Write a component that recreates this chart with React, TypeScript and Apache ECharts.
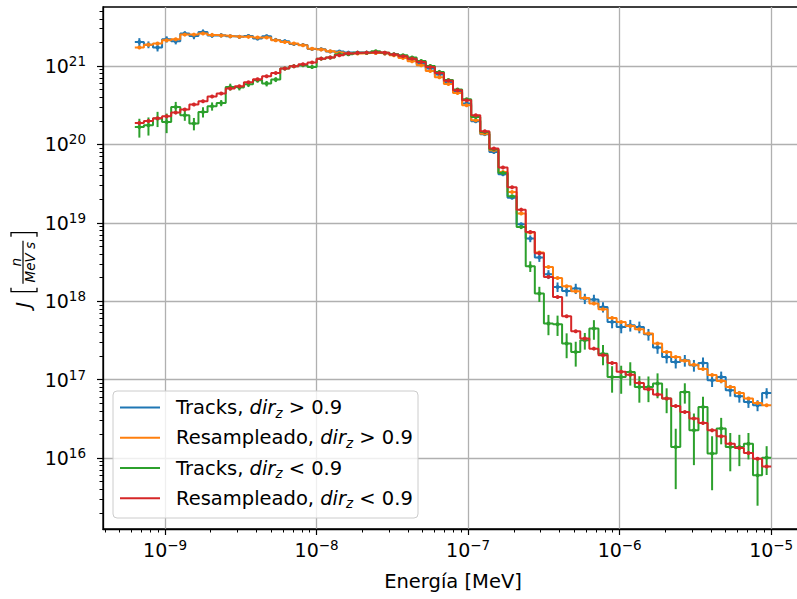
import React, { useEffect, useRef } from 'react';
import * as echarts from 'echarts';

const FONT = '"DejaVu Sans", Verdana, sans-serif';

// Energy bins: logarithmic, 70 bins between 10^-9.2 and 10^-5 MeV
const LOG_E_MIN = -9.2;
const LOG_E_MAX = -5.0;
const N_BINS = 70;

// Axis limits (log10 units)
const X_MIN = -9.41;
const X_MAX = -4.79;
const Y_MIN = 15.094;
const Y_MAX = 21.752;

const xMajorTicks = [-9, -8, -7, -6, -5];
const yMajorTicks = [16, 17, 18, 19, 20, 21];

const seriesNames = [
  'Tracks, dir_z > 0.9',
  'Resampleado, dir_z > 0.9',
  'Tracks, dir_z < 0.9',
  'Resampleado, dir_z < 0.9',
];
const legendPrefixes = ['Tracks, ', 'Resampleado, ', 'Tracks, ', 'Resampleado, '];
const legendRelations = [' > 0.9', ' > 0.9', ' < 0.9', ' < 0.9'];
const seriesColors = ['#1f77b4', '#ff7f0e', '#2ca02c', '#d62728'];

const tracksUp = [
  2.02e21, 1.87e21, 1.72e21, 2.19e21, 2.07e21, 2.59e21, 2.41e21, 2.72e21, 2.44e21, 2.46e21,
  2.39e21, 2.35e21, 2.41e21, 2.24e21, 2.39e21, 2.15e21, 2.07e21, 1.91e21, 1.85e21, 1.65e21,
  1.63e21, 1.53e21, 1.53e21, 1.48e21, 1.48e21, 1.48e21, 1.47e21, 1.44e21, 1.40e21, 1.30e21,
  1.21e21, 1.07e21, 9.3e20, 7.8e20, 6.25e20, 4.66e20, 3.31e20, 1.97e20, 1.35e20, 8.0e19,
  4.16e19, 2.09e19, 9.57e18, 6.28e18, 3.60e18, 2.20e18, 1.52e18, 1.35e18, 1.45e18, 1.08e18,
  1.05e18, 8.43e17, 5.43e17, 4.69e17, 4.93e17, 4.69e17, 3.78e17, 2.57e17, 1.94e17, 1.67e17,
  1.76e17, 1.52e17, 1.63e17, 9.8e16, 1.08e17, 7.3e16, 6.12e16, 5.18e16, 4.70e16, 6.75e16,
];
const tracksUpRelErr = [
  0.12, 0.10, 0.11, 0.09, 0.09, 0.07, 0.09, 0.07, 0.06, 0.06,
  0.05, 0.05, 0.05, 0.05, 0.05, 0.05, 0.05, 0.05, 0.05, 0.05,
  0.05, 0.04, 0.04, 0.04, 0.04, 0.04, 0.04, 0.04, 0.04, 0.04,
  0.04, 0.04, 0.04, 0.04, 0.04, 0.03, 0.03, 0.03, 0.03, 0.03,
  0.03, 0.03, 0.04, 0.10, 0.12, 0.13, 0.14, 0.15, 0.15, 0.15,
  0.15, 0.15, 0.17, 0.17, 0.17, 0.17, 0.17, 0.17, 0.17, 0.17,
  0.17, 0.17, 0.17, 0.18, 0.17, 0.17, 0.17, 0.16, 0.16, 0.15,
];

const resampUp = [
  1.72e21, 1.87e21, 1.93e21, 2.13e21, 2.19e21, 2.51e21, 2.51e21, 2.59e21, 2.49e21, 2.44e21,
  2.39e21, 2.35e21, 2.35e21, 2.30e21, 2.30e21, 2.13e21, 2.02e21, 1.93e21, 1.84e21, 1.66e21,
  1.62e21, 1.54e21, 1.48e21, 1.44e21, 1.44e21, 1.46e21, 1.46e21, 1.44e21, 1.37e21, 1.26e21,
  1.15e21, 1.02e21, 8.6e20, 7.2e20, 5.9e20, 4.53e20, 3.16e20, 2.03e20, 1.37e20, 8.41e19,
  4.45e19, 2.47e19, 1.31e19, 7.50e18, 4.17e18, 2.73e18, 1.98e18, 1.55e18, 1.34e18, 1.10e18,
  9.31e17, 7.89e17, 6.11e17, 5.43e17, 4.83e17, 4.39e17, 3.86e17, 2.88e17, 2.25e17, 1.94e17,
  1.74e17, 1.55e17, 1.36e17, 1.14e17, 9.6e16, 8.05e16, 6.75e16, 5.73e16, 5.04e16, 4.70e16,
];
const resampUpRelErr = [
  0.03, 0.03, 0.03, 0.03, 0.03, 0.03, 0.03, 0.03, 0.03, 0.03,
  0.015, 0.015, 0.015, 0.015, 0.015, 0.015, 0.015, 0.015, 0.015, 0.015,
  0.015, 0.015, 0.015, 0.015, 0.015, 0.015, 0.015, 0.015, 0.015, 0.015,
  0.015, 0.015, 0.015, 0.015, 0.015, 0.015, 0.015, 0.015, 0.015, 0.015,
  0.015, 0.015, 0.015, 0.03, 0.03, 0.03, 0.03, 0.03, 0.03, 0.03,
  0.03, 0.03, 0.03, 0.03, 0.03, 0.03, 0.03, 0.03, 0.03, 0.03,
  0.03, 0.03, 0.03, 0.03, 0.03, 0.03, 0.03, 0.03, 0.03, 0.03,
];

const tracksDown = [
  1.67e20, 1.75e20, 2.13e20, 1.93e20, 3.00e20, 2.35e20, 1.84e20, 2.59e20, 3.06e20, 3.37e20,
  5.40e20, 5.30e20, 5.85e20, 6.58e20, 5.96e20, 6.70e20, 9.26e20, 9.91e20, 1.02e21, 9.71e20,
  1.24e21, 1.28e21, 1.41e21, 1.41e21, 1.47e21, 1.47e21, 1.54e21, 1.47e21, 1.41e21, 1.37e21,
  1.28e21, 1.16e21, 1.00e21, 8.4e20, 6.6e20, 5.0e20, 3.76e20, 2.24e20, 1.44e20, 8.65e19,
  4.32e19, 2.18e19, 8.83e18, 2.79e18, 1.25e18, 5.18e17, 5.07e17, 2.88e17, 2.25e17, 3.17e17,
  4.47e17, 2.14e17, 1.08e17, 1.08e17, 1.25e17, 8.05e16, 8.05e16, 8.89e16, 5.73e16, 1.38e16,
  6.95e16, 2.25e16, 4.48e16, 1.14e16, 2.37e16, 1.38e16, 1.38e16, 1.52e16, 6.0e15, 1.01e16,
];
const tracksDownRelErr = [
  0.27, 0.26, 0.22, 0.28, 0.16, 0.15, 0.18, 0.15, 0.12, 0.09,
  0.10, 0.08, 0.08, 0.07, 0.08, 0.07, 0.05, 0.05, 0.05, 0.05,
  0.05, 0.05, 0.05, 0.05, 0.05, 0.05, 0.04, 0.04, 0.04, 0.04,
  0.04, 0.04, 0.04, 0.04, 0.04, 0.04, 0.04, 0.04, 0.04, 0.04,
  0.04, 0.04, 0.06, 0.155, 0.22, 0.29, 0.29, 0.35, 0.35, 0.24,
  0.28, 0.29, 0.37, 0.39, 0.33, 0.37, 0.36, 0.35, 0.35, 0.71,
  0.29, 0.64, 0.35, 0.66, 0.37, 0.51, 0.43, 0.37, 0.59, 0.40,
];

const resampDown = [
  1.87e20, 1.99e20, 2.15e20, 2.28e20, 2.54e20, 2.78e20, 3.22e20, 3.55e20, 4.07e20, 4.45e20,
  5.15e20, 5.51e20, 6.20e20, 6.77e20, 7.39e20, 8.15e20, 9.26e20, 9.91e20, 1.05e21, 1.11e21,
  1.24e21, 1.28e21, 1.37e21, 1.44e21, 1.47e21, 1.48e21, 1.50e21, 1.47e21, 1.40e21, 1.33e21,
  1.24e21, 1.12e21, 9.7e20, 8.15e20, 6.5e20, 4.90e20, 3.66e20, 2.35e20, 1.47e20, 8.83e19,
  5.06e19, 2.84e19, 1.47e19, 7.64e18, 4.08e18, 2.04e18, 1.13e18, 6.41e17, 4.13e17, 3.33e17,
  2.48e17, 2.04e17, 1.63e17, 1.26e17, 1.15e17, 9.06e16, 7.52e16, 6.44e16, 5.73e16, 4.60e16,
  3.86e16, 3.18e16, 2.79e16, 2.25e16, 1.89e16, 1.52e16, 1.34e16, 1.16e16, 9.8e15, 7.8e15,
];
const resampDownRelErr = [
  0.04, 0.04, 0.04, 0.04, 0.04, 0.04, 0.04, 0.04, 0.04, 0.04,
  0.015, 0.015, 0.015, 0.015, 0.015, 0.015, 0.015, 0.015, 0.015, 0.015,
  0.015, 0.015, 0.015, 0.015, 0.015, 0.015, 0.015, 0.015, 0.015, 0.015,
  0.015, 0.015, 0.015, 0.015, 0.015, 0.015, 0.015, 0.015, 0.015, 0.015,
  0.015, 0.015, 0.015, 0.03, 0.03, 0.03, 0.03, 0.03, 0.03, 0.03,
  0.03, 0.03, 0.03, 0.03, 0.03, 0.03, 0.03, 0.03, 0.03, 0.03,
  0.03, 0.03, 0.03, 0.03, 0.03, 0.03, 0.03, 0.03, 0.03, 0.03,
];

const allValues = [tracksUp, resampUp, tracksDown, resampDown];
const allRelErr = [tracksUpRelErr, resampUpRelErr, tracksDownRelErr, resampDownRelErr];

// --- derived structures ---
const binLogEdges: number[] = [];
for (let k = 0; k <= N_BINS; k++) binLogEdges.push(LOG_E_MIN + ((LOG_E_MAX - LOG_E_MIN) * k) / N_BINS);
const binLogCenters = binLogEdges.slice(0, N_BINS).map((e, k) => (e + binLogEdges[k + 1]) / 2);

function minorTicks(lo: number, hi: number, from: number, to: number) {
  const out: number[] = [];
  for (let n = from; n <= to; n++) {
    for (let m = 2; m <= 9; m++) {
      const v = n + Math.log10(m);
      if (v > lo && v < hi) out.push(v);
    }
  }
  return out;
}
const xMinorTicks = minorTicks(X_MIN, X_MAX, -10, -5);
const yMinorTicks = minorTicks(Y_MIN, Y_MAX, 15, 21);

const expText = (n: number) => (n < 0 ? '\u2212' + -n : String(n));
const powRich = {
  b: { fontSize: 19, fontFamily: FONT, color: '#000', lineHeight: 24, verticalAlign: 'middle' },
  s: { fontSize: 13.5, fontFamily: FONT, color: '#000', lineHeight: 13, verticalAlign: 'top' },
};
const powFormatter = (v: number) => `{b|10}{s|${expText(Math.round(v))}}`;

function buildSeries() {
  const series: any[] = [];
  allValues.forEach((vals, s) => {
    const color = seriesColors[s];
    const stepData = vals.map((v, k) => [binLogEdges[k], Math.log10(v)]);
    stepData.push([binLogEdges[N_BINS], Math.log10(vals[vals.length - 1])]);
    series.push({
      name: seriesNames[s],
      type: 'line',
      step: 'end',
      data: stepData,
      showSymbol: false,
      symbol: 'none',
      lineStyle: { color, width: 2 },
      itemStyle: { color },
      clip: true,
      silent: true,
      z: 3 + s * 2,
    });
    const errData = vals.map((v, k) => {
      const sig = allRelErr[s][k] * v;
      const lo = v - sig > 0 ? Math.log10(v - sig) : Y_MIN;
      return [binLogCenters[k], Math.log10(v), lo, Math.log10(v + sig)];
    });
    series.push({
      name: seriesNames[s] + ' err',
      type: 'custom',
      data: errData,
      encode: { x: 0, y: [1, 2, 3] },
      clip: true,
      silent: true,
      z: 4 + s * 2,
      renderItem: (params: any, api: any) => {
        const x = api.value(0);
        const p = api.coord([x, api.value(1)]);
        const pl = api.coord([x, api.value(2)]);
        const ph = api.coord([x, api.value(3)]);
        return {
          type: 'group',
          children: [
            { type: 'line', shape: { x1: pl[0], y1: pl[1], x2: ph[0], y2: ph[1] }, style: { stroke: color, lineWidth: 2 } },
            { type: 'circle', shape: { cx: p[0], cy: p[1], r: 2 }, style: { fill: color } },
          ],
        };
      },
    });
  });
  return series;
}

function buildGraphics() {
  const els: any[] = [];
  // y-axis label: J [ n / (MeV s) ]
  const it = (size: number) => ({ fontSize: size, fontStyle: 'italic', fontFamily: FONT, fill: '#000' });
  els.push({
    type: 'group',
    x: 24,
    y: 267.7,
    rotation: Math.PI / 2,
    z: 100,
    children: [
      { type: 'text', x: -40, y: -1, style: { text: 'J', ...it(19.5), align: 'left', textAlign: 'left', verticalAlign: 'middle', textVerticalAlign: 'middle' } },
      { type: 'polyline', shape: { points: [[-20, -13], [-24, -13], [-24, 13], [-20, 13]] }, style: { stroke: '#000', lineWidth: 1.3, fill: null } },
      { type: 'text', x: 5.5, y: -8.5, style: { text: 'n', ...it(13.5), align: 'center', textAlign: 'center', verticalAlign: 'middle', textVerticalAlign: 'middle' } },
      { type: 'line', shape: { x1: -16, y1: -1, x2: 27, y2: -1 }, style: { stroke: '#000', lineWidth: 1.2 } },
      { type: 'text', x: 5.5, y: 6, style: { text: 'MeV s', ...it(13.5), align: 'center', textAlign: 'center', verticalAlign: 'middle', textVerticalAlign: 'middle' } },
      { type: 'polyline', shape: { points: [[31, -13], [35, -13], [35, 13], [31, 13]] }, style: { stroke: '#000', lineWidth: 1.3, fill: null } },
    ],
  });
  // legend
  els.push({
    type: 'rect',
    z: 100,
    shape: { x: 113, y: 391, width: 305, height: 127, r: 4 },
    style: { fill: 'rgba(255,255,255,0.8)', stroke: '#cccccc', lineWidth: 1 },
  });
  seriesNames.forEach((_, s) => {
    const y = 407.6 + 30.2 * s;
    els.push({
      type: 'line',
      z: 101,
      shape: { x1: 120, y1: y, x2: 160, y2: y },
      style: { stroke: seriesColors[s], lineWidth: 2 },
    });
    els.push({
      type: 'text',
      z: 101,
      x: 176,
      y,
      style: {
        text: `{n|${legendPrefixes[s]}}{i|dir}{z|z}{n|${legendRelations[s]}}`,
        fontSize: 19.5,
        fontFamily: FONT,
        fill: '#000',
        lineHeight: 24,
        align: 'left',
        textAlign: 'left',
        verticalAlign: 'middle',
        textVerticalAlign: 'middle',
        rich: {
          n: { fontSize: 19.5, fontFamily: FONT, fill: '#000', color: '#000', lineHeight: 24, verticalAlign: 'middle' },
          i: { fontSize: 19.5, fontFamily: FONT, fontStyle: 'italic', fill: '#000', color: '#000', lineHeight: 24, verticalAlign: 'middle' },
          z: { fontSize: 13.5, fontFamily: FONT, fontStyle: 'italic', fill: '#000', color: '#000', lineHeight: 14.6, verticalAlign: 'bottom' },
        },
      },
    });
  });
  return els;
}

function buildOption(): any {
  const axisCommon = { type: 'value', silent: true };
  return {
    animation: false,
    backgroundColor: '#ffffff',
    textStyle: { fontFamily: FONT },
    grid: {
      left: 103,
      top: 7,
      right: -6,
      bottom: 70,
      show: true,
      borderColor: '#000',
      borderWidth: 1.3,
      backgroundColor: 'transparent',
      containLabel: false,
      outerBoundsMode: 'none',
    },
    xAxis: [
      {
        ...axisCommon,
        min: X_MIN,
        max: X_MAX,
        position: 'bottom',
        axisLine: { show: true, onZero: false, lineStyle: { color: '#000', width: 1.3 } },
        axisTick: { show: true, customValues: xMajorTicks, length: 6, lineStyle: { color: '#000', width: 1.2 } },
        axisLabel: { show: true, customValues: xMajorTicks, formatter: powFormatter, rich: powRich, margin: 9, color: '#000' },
        splitLine: { show: true, lineStyle: { color: '#b0b0b0', width: 1.3 } },
        minorTick: { show: false },
        name: 'Energía [MeV]',
        nameLocation: 'middle',
        nameGap: 40,
        nameMoveOverlap: false,
        nameTextStyle: { fontSize: 19.5, fontFamily: FONT, color: '#000', lineHeight: 24 },
      },
      {
        ...axisCommon,
        min: X_MIN,
        max: X_MAX,
        position: 'bottom',
        axisLine: { show: false, onZero: false },
        axisTick: { show: true, customValues: xMinorTicks, length: 3.5, lineStyle: { color: '#000', width: 1 } },
        axisLabel: { show: false },
        splitLine: { show: false },
      },
    ],
    yAxis: [
      {
        ...axisCommon,
        min: Y_MIN,
        max: Y_MAX,
        position: 'left',
        axisLine: { show: true, onZero: false, lineStyle: { color: '#000', width: 1.3 } },
        axisTick: { show: true, customValues: yMajorTicks, length: 6, lineStyle: { color: '#000', width: 1.2 } },
        axisLabel: { show: true, customValues: yMajorTicks, formatter: powFormatter, rich: powRich, margin: 17, color: '#000' },
        splitLine: { show: true, lineStyle: { color: '#b0b0b0', width: 1.3 } },
        minorTick: { show: false },
      },
      {
        ...axisCommon,
        min: Y_MIN,
        max: Y_MAX,
        position: 'left',
        axisLine: { show: false, onZero: false },
        axisTick: { show: true, customValues: yMinorTicks, length: 3.5, lineStyle: { color: '#000', width: 1 } },
        axisLabel: { show: false },
        splitLine: { show: false },
      },
    ],
    series: buildSeries(),
    graphic: { elements: buildGraphics() },
  };
}

export default function App() {
  const ref = useRef<HTMLDivElement>(null);
  useEffect(() => {
    if (!ref.current) return;
    const chart = echarts.init(ref.current, null, { renderer: 'svg' });
    chart.setOption(buildOption());
    return () => chart.dispose();
  }, []);
  return (
    <div
      ref={ref}
      style={{ position: 'fixed', left: 0, top: 0, width: 797, height: 599, background: '#fff', overflow: 'hidden' }}
    />
  );
}
